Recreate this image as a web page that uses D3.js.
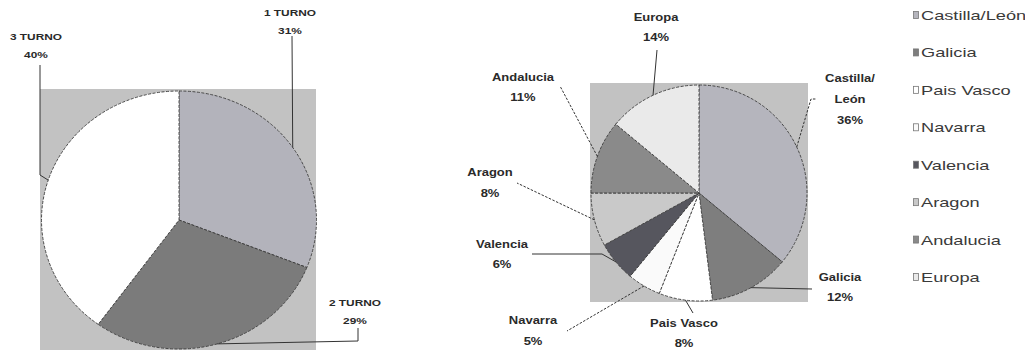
<!DOCTYPE html>
<html>
<head>
<meta charset="utf-8">
<script src="https://cdn.jsdelivr.net/npm/d3@7"></script>
<style>
  html, body { margin: 0; padding: 0; background: #fff; }
  svg { display: block; }
  text { font-family: "Liberation Sans", Arial, sans-serif; }
</style>
</head>
<body>
<svg id="chart" width="1025" height="352"></svg>
<script>
// Shift distribution
const shifts = ["1 TURNO", "2 TURNO", "3 TURNO"];
const shiftShare = [31, 29, 40];
const shiftColors = ["#b3b3bb", "#7b7b7b", "#ffffff"];

// Origin distribution
const regions = ["Castilla/León", "Galicia", "Pais Vasco", "Navarra", "Valencia", "Aragon", "Andalucia", "Europa"];
const regionShare = [36, 12, 8, 5, 6, 8, 11, 14];
const regionColors = ["#b5b5bd", "#7e7e7e", "#ffffff", "#fafafa", "#56565e", "#c9c9c9", "#8a8a8a", "#eaeaea"];
const regionLabelLines = [["Castilla/", "León"], ["Galicia"], ["Pais Vasco"], ["Navarra"], ["Valencia"], ["Aragon"], ["Andalucia"], ["Europa"]];

const svg = d3.select("#chart");

function stretchedText(g, x, y, str, o) {
  return g.append("text")
    .attr("transform", `translate(${x},${y}) scale(${o.sx},1)`)
    .attr("text-anchor", o.anchor || "middle")
    .attr("font-size", o.size)
    .attr("font-weight", o.weight || "normal")
    .attr("fill", o.fill)
    .text(str);
}

function drawPie(cfg) {
  const g = svg.append("g");
  // plot area backdrop
  g.append("rect")
    .attr("x", cfg.box[0]).attr("y", cfg.box[1])
    .attr("width", cfg.box[2]).attr("height", cfg.box[3])
    .attr("fill", "#c2c2c2");

  const pie = d3.pie().sort(null).value(d => d)(cfg.values);
  const arc = d3.arc().innerRadius(0).outerRadius(cfg.rx);
  const ky = cfg.ry / cfg.rx;

  g.append("g")
    .attr("transform", `translate(${cfg.cx},${cfg.cy}) scale(1,${ky})`)
    .selectAll("path")
    .data(pie)
    .join("path")
    .attr("d", arc)
    .attr("fill", (d, i) => cfg.colors[i])
    .attr("stroke", "#3c3c3c")
    .attr("stroke-width", 0.9)
    .attr("stroke-dasharray", "3,1.5")
    .attr("vector-effect", "non-scaling-stroke");

  // leader lines and labels
  pie.forEach((d, i) => {
    const lay = cfg.layout[i];
    const a = (d.startAngle + d.endAngle) / 2;
    const edge = [cfg.cx + cfg.rx * Math.sin(a), cfg.cy - cfg.ry * Math.cos(a)];
    const pts = [edge].concat(lay.path);
    g.append("path")
      .attr("d", d3.line()(pts))
      .attr("fill", "none")
      .attr("stroke", "#333")
      .attr("stroke-width", 1)
      .attr("stroke-dasharray", lay.dashed ? "2.5,1.5" : null);
    const lines = cfg.labelLines[i].concat([cfg.values[i] + "%"]);
    lines.forEach((ln, k) => {
      stretchedText(g, lay.x, lay.y + k * lay.lh, ln, cfg.font);
    });
  });
}

// left pie: shifts
drawPie({
  box: [40, 89, 276, 261],
  cx: 179, cy: 220, rx: 137.5, ry: 129,
  values: shiftShare,
  colors: shiftColors,
  labelLines: shifts.map(s => [s]),
  font: { size: 9.5, weight: "bold", sx: 1.25, fill: "#2a2a2a" },
  layout: [
    { x: 290, y: 16, lh: 18, path: [[292, 36]] },
    { x: 355, y: 306, lh: 18, path: [[358, 341], [358, 328]] },
    { x: 36, y: 40, lh: 18, path: [[40, 175], [40, 65]] }
  ]
});

// right pie: regions
drawPie({
  box: [590, 83, 218, 219],
  cx: 699, cy: 193, rx: 108, ry: 108,
  values: regionShare,
  colors: regionColors,
  labelLines: regionLabelLines,
  font: { size: 10, weight: "bold", sx: 1.3, fill: "#2a2a2a" },
  layout: [
    { x: 850, y: 82, lh: 21, dashed: true, path: [[811, 99], [816, 99]] },
    { x: 840, y: 281, lh: 20, path: [[812, 289]] },
    { x: 684, y: 327, lh: 20, path: [[693, 313]] },
    { x: 533, y: 324, lh: 21, dashed: true, path: [[567, 331]] },
    { x: 502, y: 248, lh: 20, path: [[602, 254], [532, 254]] },
    { x: 490, y: 176, lh: 21, dashed: true, path: [[517, 183]] },
    { x: 523, y: 81, lh: 20, dashed: true, path: [[560, 86]] },
    { x: 656, y: 21, lh: 20, path: [[657, 50]] }
  ]
});

// legend
const legendY = d3.scalePoint().domain(regions).range([15, 277]);
const legend = svg.append("g");
regions.forEach((r, i) => {
  const y = legendY(r);
  legend.append("rect")
    .attr("x", 913.5).attr("y", y - 3.5)
    .attr("width", 5).attr("height", 7)
    .attr("fill", regionColors[i])
    .attr("stroke", "#777").attr("stroke-width", 0.8);
  stretchedText(legend, 921, y + 5, r, { size: 13, sx: 1.4, fill: "#3a3a3a", anchor: "start" });
});
</script>
</body>
</html>
